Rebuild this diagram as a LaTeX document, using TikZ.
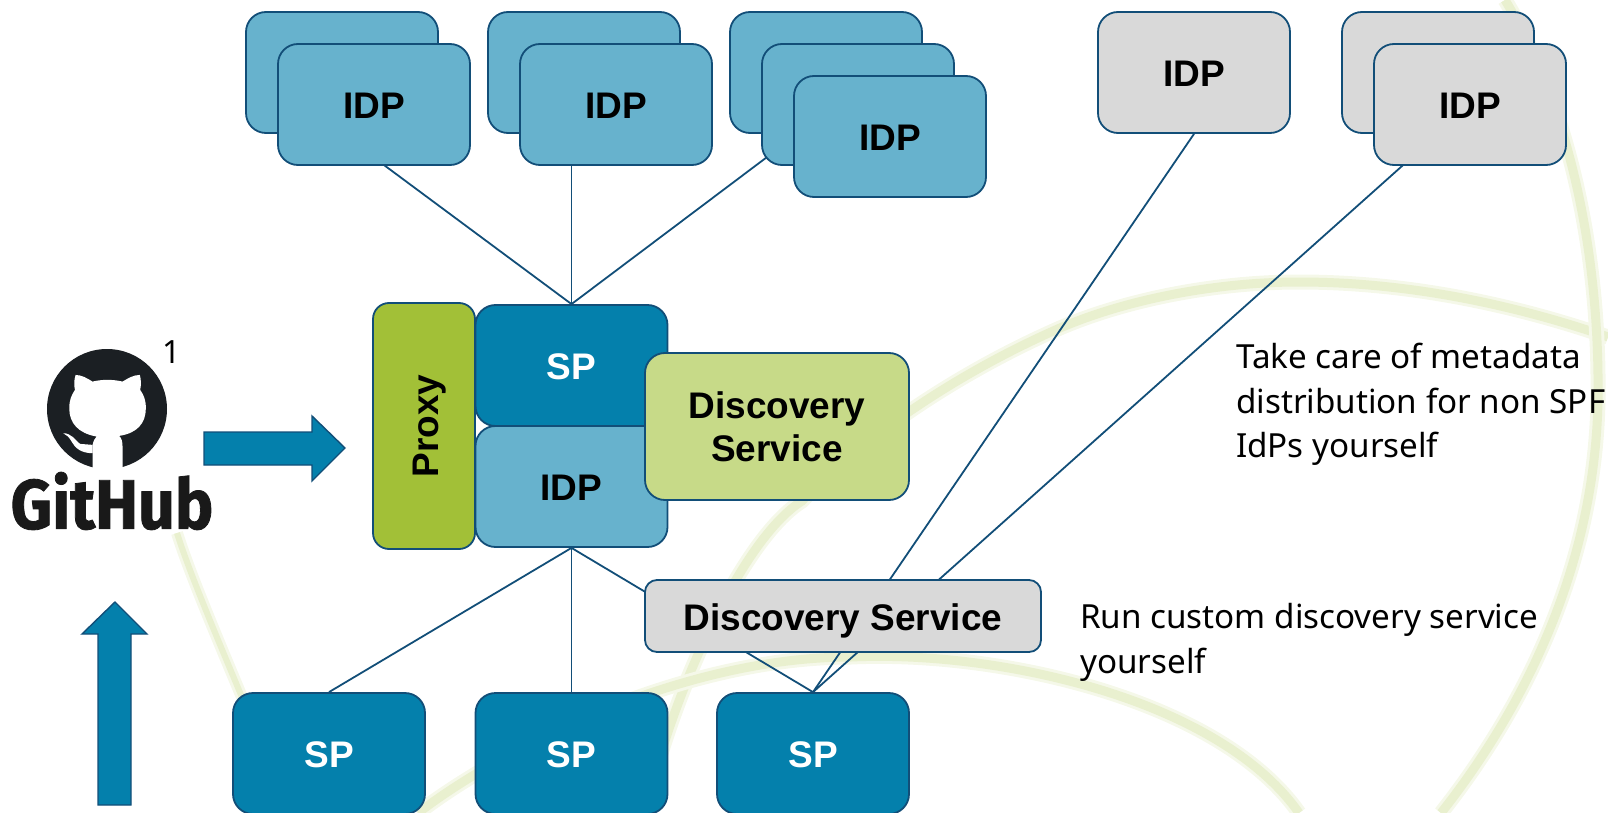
\documentclass[tikz,border=0pt]{standalone}
\usepackage{fontspec}
\setmainfont{Liberation Sans}
\newfontfamily\notefont{Noto Sans}
\newfontfamily\logofont{Fira Sans}
\usetikzlibrary{backgrounds}
\definecolor{spblue}{HTML}{0480AC}
\definecolor{idpblue}{HTML}{67B2CD}
\definecolor{proxygreen}{HTML}{A2C037}
\definecolor{discgreen}{HTML}{C7DA88}
\definecolor{boxgrey}{HTML}{D9D9D9}
\definecolor{edgeblue}{HTML}{124E78}
\definecolor{arcgreen}{HTML}{E9F0CF}
\definecolor{arcpale}{HTML}{F5F8E9}
\definecolor{logoblack}{HTML}{1B1F23}
\tikzset{
  box/.style={draw=edgeblue,line width=1.8pt,rounded corners=20pt,minimum width=192pt,minimum height=121pt,inner sep=0pt,align=center,text height=28.5pt,text depth=0pt,font=\fontsize{37}{43}\selectfont\bfseries},
  idpbox/.style={box,fill=idpblue},
  spbox/.style={box,fill=spblue,text=white},
  greybox/.style={box,fill=boxgrey},
  link/.style={draw=edgeblue,line width=1.8pt},
  bigarrow/.style={draw=edgeblue,line width=1.4pt,fill=spblue},
  arc/.style={draw=arcpale,line width=3pt,double=arcgreen,double distance=#1},
  note/.style={right,align=left,inner sep=0pt,font=\notefont\fontsize{33.2}{44.6}\selectfont}
}
\begin{document}
\begin{tikzpicture}[x=1pt,y=-1pt]
  \useasboundingbox (0,0) rectangle (1608,813);
  % watermark arcs
  \begin{scope}[on background layer]
    \draw[arc=9pt] (645,813) .. controls (670,700) and (740,540) .. (802,501) .. controls (840,460) and (930,385) .. (1060,328) .. controls (1130,298) and (1220,282) .. (1299,282) .. controls (1420,282) and (1530,310) .. (1608,337);
    \draw[arc=9pt] (1505,0) .. controls (1560,90) and (1600,230) .. (1598,400) .. controls (1595,560) and (1530,700) .. (1441,813);
    \draw[arc=9pt] (418,813) .. controls (500,750) and (680,657) .. (851,657) .. controls (1000,650) and (1220,700) .. (1299,813);
    \draw[arc=6pt] (177,533) .. controls (195,590) and (240,690) .. (290,813);
  \end{scope}
  % top row
  \node[idpbox] (idpa) at (342,72.5) {};
  \node[idpbox] (idpaf) at (374,104.5) {IDP};
  \node[idpbox] (idpb) at (584,72.5) {};
  \node[idpbox] (idpbf) at (616,104.5) {IDP};
  \node[idpbox] (idpc) at (826,72.5) {};
  \node[idpbox] (idpcm) at (858,104.5) {};
  \node[idpbox] (idpcf) at (890,136.5) {IDP};
  \node[greybox] (idpd) at (1194,72.5) {IDP};
  \node[greybox] (idpe) at (1438,72.5) {};
  \node[greybox] (idpef) at (1470,104.5) {IDP};
  % middle block
  \node[box,fill=proxygreen,rotate=90,minimum width=246pt,minimum height=102pt,rounded corners=16pt] (proxy) at (424,426) {Proxy};
  \node[spbox] (spm) at (571.5,365.5) {SP};
  \node[idpbox] (idpm) at (571.5,486.5) {IDP};
  \node[box,fill=discgreen,minimum width=264pt,minimum height=147pt,text height=,text depth=] (discm) at (777,426.5) {Discovery\\Service};
  \node[greybox,minimum width=396pt,minimum height=72pt,rounded corners=12pt] (discb) at (843,616) {Discovery Service};
  % bottom row
  \node[spbox] (spa) at (329,753.5) {SP};
  \node[spbox] (spb) at (571.5,753.5) {SP};
  \node[spbox] (spc) at (813,753.5) {SP};
  % hidden ends behind the front boxes
  \coordinate (topb) at (571.5,133);
  \coordinate (topc) at (799,133);
  \begin{scope}[on background layer]
    \draw[link] (idpa.south) -- (spm.north);
    \draw[link] (topb) -- (spm.north);
    \draw[link] (topc) -- (spm.north);
    \draw[link] (idpd.south) -- (spc.north);
    \draw[link] (idpe.south) -- (spc.north);
    \draw[link] (idpm.south) -- (spa.north);
    \draw[link] (idpm.south) -- (spb.north);
    \draw[link] (idpm.south) -- (spc.north);
  \end{scope}
  % notes
  \node[note] (notea) at (1236,404.5) {Take care of metadata\\distribution for non SPF\\IdPs yourself};
  \node[note] (noteb) at (1080,642.5) {Run custom discovery service\\yourself};
  % github logo
  \fill[logoblack] (107,409) circle (60);
  \begin{scope}[shift={(0,320)},x=0.333pt,y=-0.333pt]
    \fill[white] (278,470) -- (278,375) .. controls (281,362) and (285,355) .. (290,350) .. controls (235,340) and (208,310) .. (208,265) .. controls (208,240) and (215,225) .. (225,210) .. controls (222,195) and (222,180) .. (227,165) .. controls (245,165) and (262,175) .. (278,185) .. controls (305,178) and (340,178) .. (368,185) .. controls (385,175) and (400,165) .. (420,165) .. controls (424,180) and (424,195) .. (421,210) .. controls (432,225) and (438,240) .. (438,265) .. controls (438,310) and (412,340) .. (358,348) .. controls (365,355) and (368,365) .. (368,380) -- (368,470) -- cycle;
    \fill[white] (190,340) .. controls (215,340) and (225,360) .. (240,372) -- (278,375) -- (278,400) .. controls (245,400) and (225,385) .. (215,365) .. controls (208,352) and (200,345) .. (190,340) -- cycle;
  \end{scope}
  \node[inner sep=0pt,text=black!90,font=\logofont\fontsize{70}{74}\selectfont\bfseries\addfontfeature{FakeBold=1.2}] (github) at (112,501) {\scalebox{0.92}[1]{GitHub}};
  \node[inner sep=0pt,font=\notefont\fontsize{32}{34}\selectfont] (one) at (172,352) {1};
  % arrows
  \draw[bigarrow] (204,432) -- (312,432) -- (312,416) -- (345,448) -- (312,481) -- (312,465) -- (204,465) -- cycle;
  \draw[bigarrow] (98,805) -- (98,634) -- (82,634) -- (115,602) -- (147,634) -- (131,634) -- (131,805) -- cycle;
\end{tikzpicture}
\end{document}
